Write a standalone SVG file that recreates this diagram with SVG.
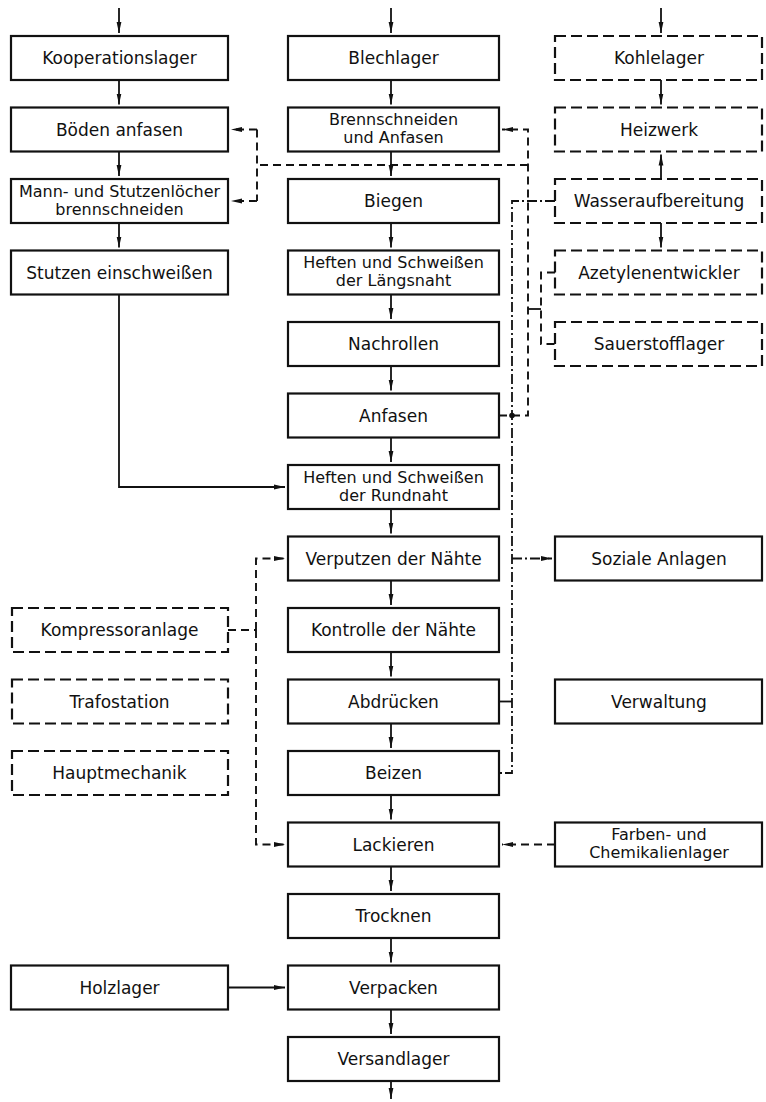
<svg xmlns="http://www.w3.org/2000/svg" width="766" height="1102" viewBox="0 0 766 1102">
<style>
  .box{fill:#fff;stroke:#111;stroke-width:2.2}
  .dbox{fill:#fff;stroke:#111;stroke-width:2.2;stroke-dasharray:11 5}
  text{font-family:"DejaVu Sans","Liberation Sans",sans-serif;font-size:17px;fill:#111;text-anchor:middle}
  text.two{font-size:16px}
  .c{fill:none;stroke:#111;stroke-width:1.8}
  .dash{fill:none;stroke:#111;stroke-width:1.9;stroke-dasharray:8 5}
  .dd{fill:none;stroke:#111;stroke-width:1.8;stroke-dasharray:10 3 2 3}
</style>
<defs>
  <marker id="ar" viewBox="0 0 11 6" refX="11" refY="3" markerWidth="11" markerHeight="6" markerUnits="userSpaceOnUse" orient="auto">
    <path d="M0,0.6 L11,3 L0,5.4 Z" fill="#111"/>
  </marker>
</defs>
<rect width="766" height="1102" fill="#fff"/>

<g id="connectors">
  <!-- solid material flow -->
  <path class="c" d="M119,8 L119,33" marker-end="url(#ar)"/>
  <path class="c" d="M391,8 L391,33" marker-end="url(#ar)"/>
  <path class="c" d="M661,8 L661,33" marker-end="url(#ar)"/>
  <path class="c" d="M119,80 L119,104.5" marker-end="url(#ar)"/>
  <path class="c" d="M119,151.5 L119,176" marker-end="url(#ar)"/>
  <path class="c" d="M119,223 L119,247.5" marker-end="url(#ar)"/>
  <path class="c" d="M119,294.5 L119,487 L285,487" marker-end="url(#ar)"/>
  <path class="c" d="M391,80 L391,104.5" marker-end="url(#ar)"/>
  <path class="c" d="M391,151.5 L391,176" marker-end="url(#ar)"/>
  <path class="c" d="M391,223 L391,247.5" marker-end="url(#ar)"/>
  <path class="c" d="M391,294.5 L391,319" marker-end="url(#ar)"/>
  <path class="c" d="M391,366 L391,390.5" marker-end="url(#ar)"/>
  <path class="c" d="M391,437.5 L391,462" marker-end="url(#ar)"/>
  <path class="c" d="M391,509 L391,533.5" marker-end="url(#ar)"/>
  <path class="c" d="M391,580.5 L391,605" marker-end="url(#ar)"/>
  <path class="c" d="M391,652 L391,676.5" marker-end="url(#ar)"/>
  <path class="c" d="M391,723.5 L391,748" marker-end="url(#ar)"/>
  <path class="c" d="M391,795 L391,819.5" marker-end="url(#ar)"/>
  <path class="c" d="M391,866.5 L391,891" marker-end="url(#ar)"/>
  <path class="c" d="M391,938 L391,962.5" marker-end="url(#ar)"/>
  <path class="c" d="M391,1009.5 L391,1034" marker-end="url(#ar)"/>
  <path class="c" d="M391,1081 L391,1099" marker-end="url(#ar)"/>
  <path class="c" d="M661,80 L661,104.5" marker-end="url(#ar)"/>
  <path class="c" d="M661,179 L661,154.5" marker-end="url(#ar)"/>
  <path class="c" d="M661,223 L661,247.5" marker-end="url(#ar)"/>
  <path class="c" d="M228,987.5 L285,987.5" marker-end="url(#ar)"/>

  <!-- dashed: gas supply -->
  <path class="dash" d="M499,415.5 L528,415.5 L528,129.5 L502,129.5" marker-end="url(#ar)"/>
  <path class="dash" d="M528,165 L257,165"/>
  <path class="dash" d="M257,129.5 L257,201"/>
  <path class="dash" d="M257,129.5 L231,129.5" marker-end="url(#ar)"/>
  <path class="dash" d="M257,201 L231,201" marker-end="url(#ar)"/>
  <path class="dash" d="M555,272.5 L541,272.5 L541,344 L555,344"/>
  <path class="c" d="M528,309 L541,309"/>

  <!-- dash-dot: water supply -->
  <path class="dd" d="M555,201 L512,201 L512,773 L499,773"/>
  <path class="c" d="M512,701.5 L499,701.5"/>
  <path class="dd" d="M512,558.5 L552,558.5" marker-end="url(#ar)"/>
  <circle cx="512" cy="415.5" r="2.8" fill="#111"/>

  <!-- dashed: compressed air -->
  <path class="dash" d="M228,630 L256,630"/>
  <path class="dash" d="M256,630 L256,558.5 L285,558.5" marker-end="url(#ar)"/>
  <path class="dash" d="M256,630 L256,844.5 L285,844.5" marker-end="url(#ar)"/>

  <!-- dashed: paints -->
  <path class="dash" d="M555,844.5 L502,844.5" marker-end="url(#ar)"/>
</g>

<!-- left column -->
<g id="kooperationslager"><rect class="box" x="11" y="36" width="217" height="44"/><text x="119.5" y="64">Kooperationslager</text></g>
<g id="boeden-anfasen"><rect class="box" x="11" y="107.5" width="217" height="44"/><text x="119.5" y="135.5">Böden anfasen</text></g>
<g id="mannloecher"><rect class="box" x="11" y="179" width="217" height="44"/><text class="two" x="119.5" y="196.5">Mann- und Stutzenlöcher</text><text class="two" x="119.5" y="214.5">brennschneiden</text></g>
<g id="stutzen-einschweissen"><rect class="box" x="11" y="250.5" width="217" height="44"/><text x="119.5" y="278.5">Stutzen einschweißen</text></g>
<g id="kompressoranlage"><rect class="dbox" x="12" y="608" width="216" height="44"/><text x="119.5" y="636">Kompressoranlage</text></g>
<g id="trafostation"><rect class="dbox" x="12" y="679.5" width="216" height="44"/><text x="119.5" y="707.5">Trafostation</text></g>
<g id="hauptmechanik"><rect class="dbox" x="12" y="751" width="216" height="44"/><text x="119.5" y="779">Hauptmechanik</text></g>
<g id="holzlager"><rect class="box" x="11" y="965.5" width="217" height="44"/><text x="119.5" y="993.5">Holzlager</text></g>

<!-- center column -->
<g id="blechlager"><rect class="box" x="288" y="36" width="211" height="44"/><text x="393.5" y="64">Blechlager</text></g>
<g id="brennschneiden"><rect class="box" x="288" y="107.5" width="211" height="44"/><text class="two" x="393.5" y="125">Brennschneiden</text><text class="two" x="393.5" y="143">und Anfasen</text></g>
<g id="biegen"><rect class="box" x="288" y="179" width="211" height="44"/><text x="393.5" y="207">Biegen</text></g>
<g id="laengsnaht"><rect class="box" x="288" y="250.5" width="211" height="44"/><text class="two" x="393.5" y="268">Heften und Schweißen</text><text class="two" x="393.5" y="286">der Längsnaht</text></g>
<g id="nachrollen"><rect class="box" x="288" y="322" width="211" height="44"/><text x="393.5" y="350">Nachrollen</text></g>
<g id="anfasen"><rect class="box" x="288" y="393.5" width="211" height="44"/><text x="393.5" y="421.5">Anfasen</text></g>
<g id="rundnaht"><rect class="box" x="288" y="465" width="211" height="44"/><text class="two" x="393.5" y="482.5">Heften und Schweißen</text><text class="two" x="393.5" y="500.5">der Rundnaht</text></g>
<g id="verputzen"><rect class="box" x="288" y="536.5" width="211" height="44"/><text x="393.5" y="564.5">Verputzen der Nähte</text></g>
<g id="kontrolle"><rect class="box" x="288" y="608" width="211" height="44"/><text x="393.5" y="636">Kontrolle der Nähte</text></g>
<g id="abdruecken"><rect class="box" x="288" y="679.5" width="211" height="44"/><text x="393.5" y="707.5">Abdrücken</text></g>
<g id="beizen"><rect class="box" x="288" y="751" width="211" height="44"/><text x="393.5" y="779">Beizen</text></g>
<g id="lackieren"><rect class="box" x="288" y="822.5" width="211" height="44"/><text x="393.5" y="850.5">Lackieren</text></g>
<g id="trocknen"><rect class="box" x="288" y="894" width="211" height="44"/><text x="393.5" y="922">Trocknen</text></g>
<g id="verpacken"><rect class="box" x="288" y="965.5" width="211" height="44"/><text x="393.5" y="993.5">Verpacken</text></g>
<g id="versandlager"><rect class="box" x="288" y="1037" width="211" height="44"/><text x="393.5" y="1065">Versandlager</text></g>

<!-- right column -->
<g id="kohlelager"><rect class="dbox" x="555" y="36" width="207" height="44"/><text x="659" y="64">Kohlelager</text></g>
<g id="heizwerk"><rect class="dbox" x="555" y="107.5" width="207" height="44"/><text x="659" y="135.5">Heizwerk</text></g>
<g id="wasseraufbereitung"><rect class="dbox" x="555" y="179" width="207" height="44"/><text x="659" y="207">Wasseraufbereitung</text></g>
<g id="azetylenentwickler"><rect class="dbox" x="555" y="250.5" width="207" height="44"/><text x="659" y="278.5">Azetylenentwickler</text></g>
<g id="sauerstofflager"><rect class="dbox" x="555" y="322" width="207" height="44"/><text x="659" y="350">Sauerstofflager</text></g>
<g id="soziale-anlagen"><rect class="box" x="555" y="536.5" width="207" height="44"/><text x="659" y="564.5">Soziale Anlagen</text></g>
<g id="verwaltung"><rect class="box" x="555" y="679.5" width="207" height="44"/><text x="659" y="707.5">Verwaltung</text></g>
<g id="farbenlager"><rect class="box" x="555" y="822.5" width="207" height="44"/><text class="two" x="659" y="840">Farben- und</text><text class="two" x="659" y="858">Chemikalienlager</text></g>
</svg>
